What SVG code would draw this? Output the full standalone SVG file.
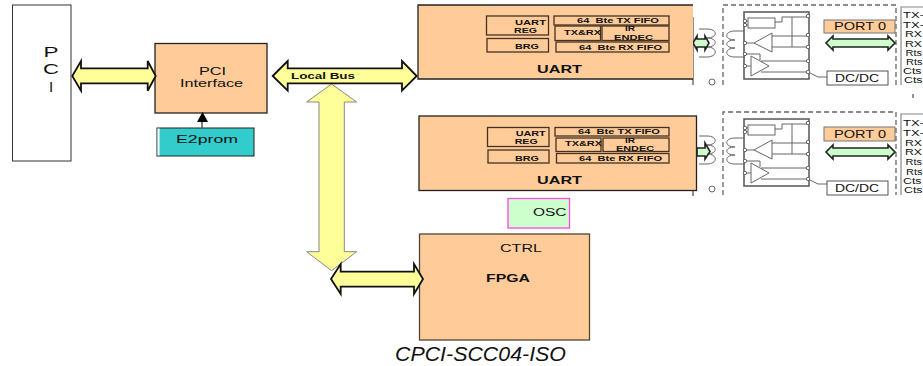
<svg xmlns="http://www.w3.org/2000/svg" width="923" height="366" viewBox="0 0 923 366">
<style>
text{font-family:"Liberation Sans",Arial,sans-serif;fill:#111}
.b{font-weight:bold}
.box{fill:#FFCC99;stroke:#222;stroke-width:1.3}
.in{fill:none;stroke:#443322;stroke-width:1.3}
.t{font-weight:bold;font-size:7.2px}
.l{font-size:8.500px}
.ya{fill:#FFFF99;stroke:#111;stroke-width:1.8;stroke-linejoin:miter}
.ga{fill:#CCFFCC;stroke:#222;stroke-width:1.6}
.s{fill:none;stroke:#666;stroke-width:1}
.sd{fill:none;stroke:#555;stroke-width:1.5}
.dash{fill:none;stroke:#666;stroke-width:1.3;stroke-dasharray:5 3}
.dot{fill:#fff;stroke:#666;stroke-width:1}
</style>
<defs>
<filter id="soft" x="-5%" y="-5%" width="110%" height="110%"><feGaussianBlur stdDeviation="0.35"/></filter>
<g id="schem" filter="url(#soft)">
<rect x="744" y="12" width="65" height="67" class="sd"/>
<rect x="748" y="18" width="27" height="10" class="s"/>
<path class="s" d="M775 22H782V17H808M792 17V47M772 36H808M772 47H808M761 61H808M761 72H808M745 43H754M745 66H751M745 54H760V60M745 21H748M745 25H748"/>
<path class="s" d="M754 43L772 33V52ZM751 56L769 66L751 76Z"/>
<path class="s" d="M808 72L818 77H827"/>
<path class="s" d="M735 31H744M735 57H745"/>
<path class="s" d="M735 31c-11 0-11 9 0 9c-11 0-11 8 0 8c-11 0-11 9 0 9"/>
<path class="s" d="M699 29H707c11 0 11 9 0 9c11 0 11 9 0 9c11 0 11 10 0 10H699"/>
<circle cx="712" cy="82" r="3" class="dot"/>
<circle cx="745" cy="21" r="1.700" class="dot"/><circle cx="745" cy="25" r="1.700" class="dot"/><circle cx="745" cy="43" r="1.700" class="dot"/><circle cx="745" cy="54" r="1.700" class="dot"/><circle cx="745" cy="66" r="1.700" class="dot"/>
<circle cx="808" cy="16" r="1.700" class="dot"/><circle cx="808" cy="35" r="1.700" class="dot"/><circle cx="808" cy="47" r="1.700" class="dot"/><circle cx="808" cy="61" r="1.700" class="dot"/><circle cx="808" cy="72" r="1.700" class="dot"/>
</g>
</defs>

<g id="iso1">
<use href="#schem"/>
<path class="dash" d="M723 85V5H896V85"/>
<path d="M923 7H901V85" fill="none" stroke="#888" stroke-width="1.2"/>
<rect x="824" y="20" width="71" height="13" fill="#FFCC99" stroke="#777"/>
<text x="834" y="30" font-size="10.500" textLength="52" lengthAdjust="spacingAndGlyphs">PORT 0</text>
<rect x="827" y="71" width="61" height="14" fill="#fff" stroke="#555"/>
<text x="835" y="81.500" font-size="10" textLength="44" lengthAdjust="spacingAndGlyphs">DC/DC</text>
<text class="l" x="903" y="18" textLength="21" lengthAdjust="spacingAndGlyphs">TX-</text>
<text class="l" x="903" y="27.500" textLength="21" lengthAdjust="spacingAndGlyphs">TX-</text>
<text class="l" x="905" y="37" textLength="17" lengthAdjust="spacingAndGlyphs">RX</text>
<text class="l" x="905" y="46.500" textLength="17" lengthAdjust="spacingAndGlyphs">RX</text>
<text class="l" x="905.500" y="56" textLength="16.500" lengthAdjust="spacingAndGlyphs">Rts</text>
<text class="l" x="906" y="65" textLength="16.500" lengthAdjust="spacingAndGlyphs">Rts</text>
<text class="l" x="903" y="74" textLength="18.500" lengthAdjust="spacingAndGlyphs">Cts</text>
<text class="l" x="904" y="83" textLength="18.500" lengthAdjust="spacingAndGlyphs">Cts</text>
<path class="ga" d="M826 43L833 36V39H888V36L895 43L888 50V47H833V50Z"/>
<path class="ga" d="M693 43L697 36V39H705V36L709 43L705 50V47H697V50Z"/>
<path d="M693 17V85M913 94V98" stroke="#222" fill="none"/>
</g>

<g id="iso2">
<use href="#schem" y="107"/>
<path class="dash" d="M723 195V112H896V195"/>
<path d="M923 114H901V195" fill="none" stroke="#888" stroke-width="1.2"/>
<rect x="824" y="127" width="71" height="14" fill="#FFCC99" stroke="#777"/>
<text x="834" y="137.500" font-size="10.500" textLength="52" lengthAdjust="spacingAndGlyphs">PORT 0</text>
<rect x="827" y="181" width="61" height="14" fill="#fff" stroke="#555"/>
<text x="835" y="191.500" font-size="10" textLength="44" lengthAdjust="spacingAndGlyphs">DC/DC</text>
<text class="l" x="903" y="126" textLength="21" lengthAdjust="spacingAndGlyphs">TX-</text>
<text class="l" x="903" y="135.500" textLength="21" lengthAdjust="spacingAndGlyphs">TX-</text>
<text class="l" x="905" y="145.500" textLength="17" lengthAdjust="spacingAndGlyphs">RX</text>
<text class="l" x="905" y="155" textLength="17" lengthAdjust="spacingAndGlyphs">RX</text>
<text class="l" x="905.500" y="165" textLength="16.500" lengthAdjust="spacingAndGlyphs">Rts</text>
<text class="l" x="906" y="175" textLength="16.500" lengthAdjust="spacingAndGlyphs">Rts</text>
<text class="l" x="903" y="184" textLength="18.500" lengthAdjust="spacingAndGlyphs">Cts</text>
<text class="l" x="904" y="193" textLength="18.500" lengthAdjust="spacingAndGlyphs">Cts</text>
<path class="ga" d="M826 152L833 145V148H888V145L895 152L888 159V156H833V159Z"/>
<path class="ga" d="M697 148H705V143L710 151.500L705 159V156H697Z"/>
<path d="M693 190V196" stroke="#222" fill="none"/>
</g>

<g id="pci">
<rect x="12.500" y="5" width="58.500" height="156" fill="#fff" stroke="#333" stroke-width="1"/>
<text x="51" y="57" font-size="15" text-anchor="middle" textLength="15" lengthAdjust="spacingAndGlyphs">P</text>
<text x="51" y="74" font-size="15" text-anchor="middle" textLength="16" lengthAdjust="spacingAndGlyphs">C</text>
<text x="51" y="92" font-size="15" text-anchor="middle">I</text>
</g>

<g id="pci-interface">
<rect x="155" y="43.500" width="112" height="69.500" class="box"/>
<text x="199" y="75" font-size="10" textLength="27" lengthAdjust="spacingAndGlyphs">PCI</text>
<text x="180" y="87" font-size="10" textLength="63" lengthAdjust="spacingAndGlyphs">Interface</text>
</g>

<g id="e2prom">
<rect x="157" y="128" width="97" height="28" fill="#33CCCC" stroke="#222" stroke-width="1"/>
<rect x="157.500" y="128.500" width="2" height="27" fill="#fff"/>
<text x="176" y="143" font-size="10" textLength="62" lengthAdjust="spacingAndGlyphs">E2prom</text>
</g>

<g id="uart1">
<rect x="418" y="5" width="275" height="74" fill="#FFCC99"/>
<path d="M693 5H418V79H693" fill="none" stroke="#222" stroke-width="1.300"/>
<rect x="486.500" y="16" width="62" height="19" class="in"/>
<rect x="487" y="38.500" width="61.500" height="13.500" class="in"/>
<rect x="554" y="16" width="115" height="9" class="in"/>
<rect x="555" y="26" width="45.500" height="14.500" class="in"/>
<rect x="602" y="26" width="67" height="14.500" class="in"/>
<rect x="556" y="42" width="113" height="10" class="in"/>
<text class="t" x="515" y="24.500" textLength="31" lengthAdjust="spacingAndGlyphs">UART</text>
<text class="t" x="514" y="32.500" textLength="23" lengthAdjust="spacingAndGlyphs">REG</text>
<text class="t" x="515" y="49" textLength="24" lengthAdjust="spacingAndGlyphs">BRG</text>
<text class="t" x="577" y="23" textLength="82" lengthAdjust="spacingAndGlyphs" xml:space="preserve">64  Bte TX FIFO</text>
<text class="t" x="564" y="35" textLength="37" lengthAdjust="spacingAndGlyphs">TX&amp;RX</text>
<text class="t" x="625" y="31.200" textLength="10" lengthAdjust="spacingAndGlyphs">IR</text>
<text class="t" x="614" y="39.500" textLength="39" lengthAdjust="spacingAndGlyphs">ENDEC</text>
<text class="t" x="579" y="49.500" textLength="83" lengthAdjust="spacingAndGlyphs" xml:space="preserve">64  Bte RX FIFO</text>
<text class="b" x="537" y="73" font-size="11" textLength="45" lengthAdjust="spacingAndGlyphs">UART</text>
</g>

<g id="uart2">
<rect x="419" y="116" width="277.500" height="74.500" class="box"/>
<rect x="487.500" y="127.500" width="61.500" height="19" class="in"/>
<rect x="488" y="150" width="61" height="13" class="in"/>
<rect x="555" y="127.500" width="114" height="8.500" class="in"/>
<rect x="556" y="138" width="45" height="13.500" class="in"/>
<rect x="603" y="138" width="66" height="13.500" class="in"/>
<rect x="556.500" y="153.500" width="112.500" height="9.500" class="in"/>
<text class="t" x="515.700" y="135.700" textLength="30" lengthAdjust="spacingAndGlyphs">UART</text>
<text class="t" x="514.700" y="143.500" textLength="23" lengthAdjust="spacingAndGlyphs">REG</text>
<text class="t" x="515" y="161" textLength="24" lengthAdjust="spacingAndGlyphs">BRG</text>
<text class="t" x="578" y="134.300" textLength="82" lengthAdjust="spacingAndGlyphs" xml:space="preserve">64  Bte TX FIFO</text>
<text class="t" x="565" y="146" textLength="37" lengthAdjust="spacingAndGlyphs">TX&amp;RX</text>
<text class="t" x="625" y="142.500" textLength="10" lengthAdjust="spacingAndGlyphs">IR</text>
<text class="t" x="616" y="150.800" textLength="38" lengthAdjust="spacingAndGlyphs">ENDEC</text>
<text class="t" x="579" y="161" textLength="83" lengthAdjust="spacingAndGlyphs" xml:space="preserve">64  Bte RX FIFO</text>
<text class="b" x="537" y="184" font-size="11" textLength="45" lengthAdjust="spacingAndGlyphs">UART</text>
</g>

<g id="osc">
<rect x="508" y="198.500" width="61.500" height="29.500" fill="#CCFFCC" stroke="#FF44EE" stroke-width="1.300"/>
<text x="533" y="216" font-size="10" textLength="33.500" lengthAdjust="spacingAndGlyphs">OSC</text>
</g>

<g id="fpga">
<rect x="419.500" y="234" width="170" height="106" fill="#FFCC99" stroke="#554433" stroke-width="1.300"/>
<text x="500" y="252" font-size="10" textLength="42" lengthAdjust="spacingAndGlyphs">CTRL</text>
<text class="b" x="486" y="282" font-size="10" textLength="44" lengthAdjust="spacingAndGlyphs">FPGA</text>
</g>

<g id="connectors">
<path d="M331.500 84L356.700 102H344.300V251.700H356.700L331.500 270.700L306.700 251.700H319V102H306.700Z" fill="#FFFF99" stroke="#888" stroke-width="1"/>
<path class="ya" d="M72.300 76L81 61V68.300H147.700V61L155.700 76L147.700 90.700V83.300H81V90.700Z"/>
<path class="ya" d="M272.700 76L287.700 61V68.300H402V61L416.700 76L402 90.700V83.300H287.700V90.700Z"/>
<path class="ya" d="M331 279L340.700 264V271.700H414V264L423 279L414 294V286.700H340.700V294Z"/>
<path d="M202 128V120" stroke="#555" stroke-width="1.500" fill="none"/>
<path d="M197 122H208L202.500 112Z" fill="#000"/>
<text class="b" x="291" y="79" font-size="9" textLength="64" lengthAdjust="spacingAndGlyphs">Local Bus</text>
</g>

<text x="395" y="361" font-size="20" font-style="italic" textLength="171" lengthAdjust="spacingAndGlyphs">CPCI-SCC04-ISO</text>
</svg>
